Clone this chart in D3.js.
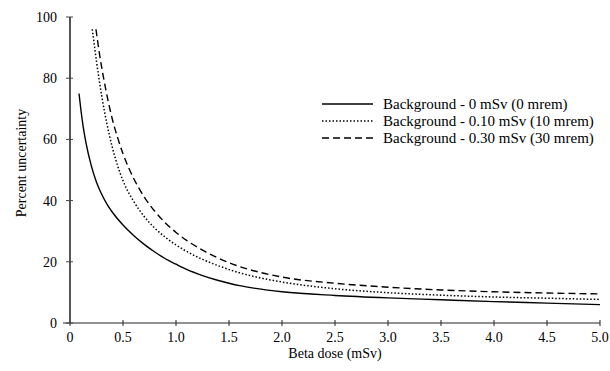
<!DOCTYPE html>
<html>
<head>
<meta charset="utf-8">
<script src="https://cdn.jsdelivr.net/npm/d3@7"></script>
<style>
  body { margin: 0; background: #fff; }
  text { font-family: "Liberation Serif", "DejaVu Serif", serif; fill: #000; }
</style>
</head>
<body>
<div id="chart"></div>
<script>
// beta dose values (mSv) and percent uncertainty
const doseNone = [0.085, 0.1, 0.125, 0.15, 0.2, 0.25, 0.3, 0.35, 0.4, 0.5, 0.6, 0.7, 0.8, 0.9, 1.0, 1.1, 1.25, 1.4, 1.5, 1.6, 1.75, 2.0, 2.5, 3.0, 3.5, 4.0, 4.5, 5.0];
const uncNone  = [75, 70.5, 64, 59, 51.5, 46, 42, 38.8, 36.2, 32, 28.6, 25.7, 23.2, 21, 19.2, 17.5, 15.5, 13.9, 13.0, 12.2, 11.3, 10.2, 9.0, 8.2, 7.6, 7.0, 6.5, 6.0];

const doseLow = [0.21, 0.25, 0.3, 0.35, 0.4, 0.45, 0.5, 0.6, 0.7, 0.8, 0.9, 1.0, 1.1, 1.25, 1.4, 1.6, 1.8, 2.0, 2.5, 3.0, 3.5, 4.0, 4.5, 5.0];
const uncLow  = [96, 85.5, 74, 64.8, 57.3, 51.3, 46.5, 39.8, 34.8, 31, 28, 25.5, 23.4, 20.8, 18.7, 16.4, 14.7, 13.4, 11.2, 9.9, 9.1, 8.5, 8.1, 7.7];

const doseHigh = [0.245, 0.28, 0.32, 0.36, 0.4, 0.45, 0.5, 0.55, 0.6, 0.7, 0.8, 0.9, 1.0, 1.1, 1.25, 1.4, 1.57, 1.8, 2.0, 2.5, 3.0, 3.5, 4.0, 4.5, 5.0];
const uncHigh  = [96, 87.5, 79.5, 72.5, 66.5, 60.5, 55.3, 51, 47.3, 41.2, 36.5, 32.7, 29.6, 27, 23.8, 21.2, 18.8, 16.5, 15.0, 13.0, 11.7, 10.8, 10.2, 9.8, 9.5];

const seriesNames = ['Background - 0 mSv (0 mrem)', 'Background - 0.10 mSv (10 mrem)', 'Background - 0.30 mSv (30 mrem)'];
const xTicks = [0, 0.5, 1.0, 1.5, 2.0, 2.5, 3.0, 3.5, 4.0, 4.5, 5.0];
const yTicks = [0, 20, 40, 60, 80, 100];

const width = 610, height = 371;
const margin = { left: 70, right: 10, top: 17, bottom: 48 };

const svg = d3.select('#chart').append('svg')
  .attr('width', width)
  .attr('height', height);

const x = d3.scaleLinear().domain([0, 5]).range([margin.left, width - margin.right]);
const y = d3.scaleLinear().domain([0, 100]).range([height - margin.bottom, margin.top]);

// x axis, ticks cross the line
const xAxis = svg.append('g').attr('transform', `translate(0,${y(0)})`);
xAxis.append('line')
  .attr('x1', margin.left - 7).attr('x2', x(5))
  .attr('stroke', '#222').attr('stroke-width', 1);
xAxis.selectAll('.xt').data(xTicks).join('line')
  .attr('x1', d => x(d)).attr('x2', d => x(d))
  .attr('y1', -3).attr('y2', 3)
  .attr('stroke', '#222');
xAxis.selectAll('.xl').data(xTicks).join('text')
  .attr('x', d => x(d)).attr('y', 19)
  .attr('text-anchor', 'middle')
  .style('font-size', '14px')
  .text(d => d === 0 ? '0' : d.toFixed(1));

// y axis
const yAxis = svg.append('g').attr('transform', `translate(${margin.left},0)`);
yAxis.append('line')
  .attr('y1', y(0)).attr('y2', y(100))
  .attr('stroke', '#555').attr('stroke-width', 2);
yAxis.selectAll('.yt').data(yTicks).join('line')
  .attr('x1', -4).attr('x2', 3)
  .attr('y1', d => y(d)).attr('y2', d => y(d))
  .attr('stroke', '#444');
yAxis.selectAll('.yl').data(yTicks).join('text')
  .attr('x', -13).attr('y', d => y(d) + 5)
  .attr('text-anchor', 'end')
  .style('font-size', '14px')
  .text(d => d);

svg.append('text')
  .attr('x', x(2.5)).attr('y', height - 13)
  .attr('text-anchor', 'middle')
  .style('font-size', '14px')
  .text('Beta dose (mSv)');

svg.append('text')
  .attr('transform', 'translate(26,163) rotate(-90)')
  .attr('text-anchor', 'middle')
  .style('font-size', '14px')
  .text('Percent uncertainty');

// curves
const line = d3.line()
  .x(d => x(d[0]))
  .y(d => y(d[1]))
  .curve(d3.curveMonotoneX);

const series = [
  { pts: d3.zip(doseNone, uncNone), dash: null, w: 1.4 },
  { pts: d3.zip(doseLow, uncLow), dash: '1.5,2', w: 1.5 },
  { pts: d3.zip(doseHigh, uncHigh), dash: '7,4', w: 1.4 }
];

svg.selectAll('.curve').data(series).join('path')
  .attr('fill', 'none')
  .attr('stroke', '#000')
  .attr('stroke-width', d => d.w)
  .attr('stroke-dasharray', d => d.dash)
  .attr('d', d => line(d.pts));

// legend
const legend = svg.append('g').attr('transform', 'translate(322,104)');
seriesNames.forEach((name, i) => {
  const g = legend.append('g').attr('transform', `translate(0,${i * 17})`);
  g.append('line')
    .attr('x1', 0).attr('x2', 51)
    .attr('stroke', '#000')
    .attr('stroke-width', series[i].w)
    .attr('stroke-dasharray', series[i].dash);
  g.append('text')
    .attr('x', 61).attr('y', 5)
    .style('font-size', '15px')
    .text(name);
});
</script>
</body>
</html>
